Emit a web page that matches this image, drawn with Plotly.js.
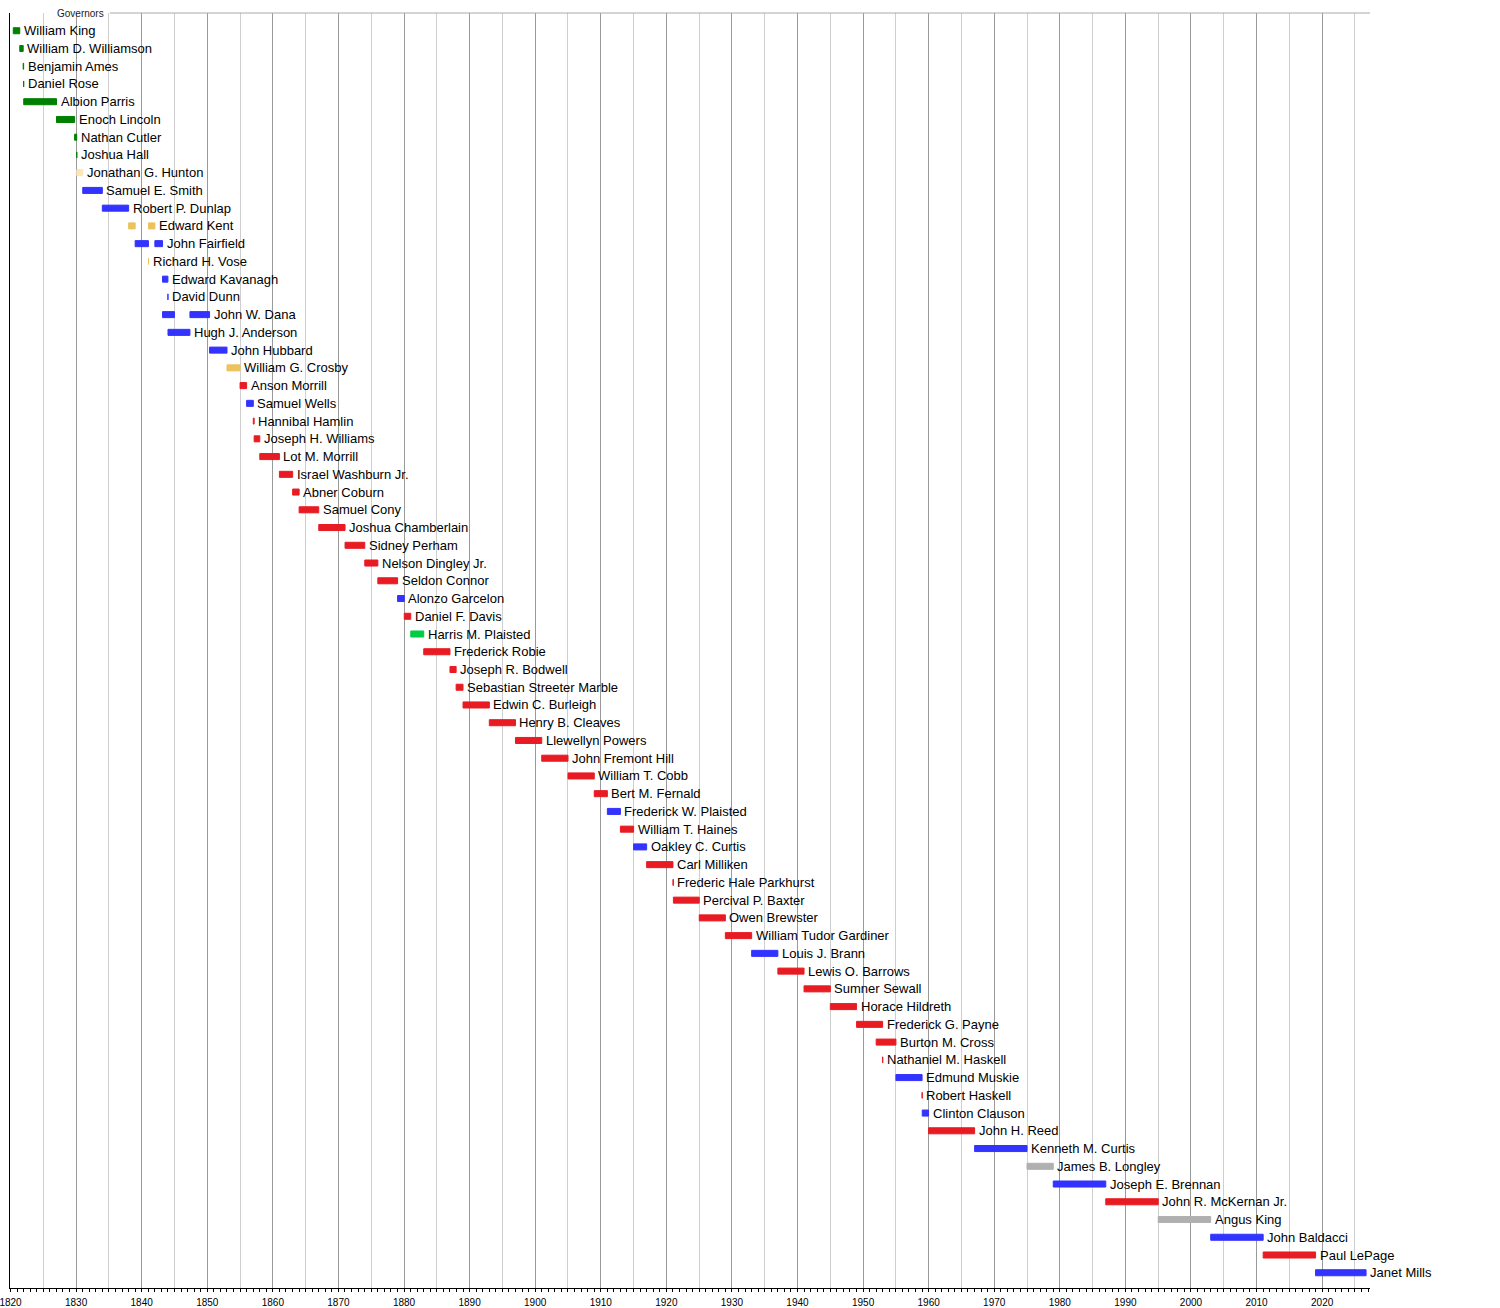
<!DOCTYPE html>
<html>
<head>
<meta charset="utf-8">
<script src="https://cdn.plot.ly/plotly-3.0.1.min.js"></script>
<style>html,body{margin:0;padding:0;background:#fff;}#chart{width:1500px;height:1308px;}</style>
</head>
<body>
<div id="chart"></div>
<script>
const groupTitle = "Governors";

const governors = [
  "William King","William D. Williamson","Benjamin Ames","Daniel Rose","Albion Parris",
  "Enoch Lincoln","Nathan Cutler","Joshua Hall","Jonathan G. Hunton","Samuel E. Smith",
  "Robert P. Dunlap","Edward Kent","John Fairfield","Richard H. Vose","Edward Kavanagh",
  "David Dunn","John W. Dana","Hugh J. Anderson","John Hubbard","William G. Crosby",
  "Anson Morrill","Samuel Wells","Hannibal Hamlin","Joseph H. Williams","Lot M. Morrill",
  "Israel Washburn Jr.","Abner Coburn","Samuel Cony","Joshua Chamberlain","Sidney Perham",
  "Nelson Dingley Jr.","Seldon Connor","Alonzo Garcelon","Daniel F. Davis","Harris M. Plaisted",
  "Frederick Robie","Joseph R. Bodwell","Sebastian Streeter Marble","Edwin C. Burleigh","Henry B. Cleaves",
  "Llewellyn Powers","John Fremont Hill","William T. Cobb","Bert M. Fernald","Frederick W. Plaisted",
  "William T. Haines","Oakley C. Curtis","Carl Milliken","Frederic Hale Parkhurst","Percival P. Baxter",
  "Owen Brewster","William Tudor Gardiner","Louis J. Brann","Lewis O. Barrows","Sumner Sewall",
  "Horace Hildreth","Frederick G. Payne","Burton M. Cross","Nathaniel M. Haskell","Edmund Muskie",
  "Robert Haskell","Clinton Clauson","John H. Reed","Kenneth M. Curtis","James B. Longley",
  "Joseph E. Brennan","John R. McKernan Jr.","Angus King","John Baldacci","Paul LePage",
  "Janet Mills"
];

const termStarts = [
  [1820.42],[1821.41],[1821.93],[1822.00],[1822.01],
  [1827.01],[1829.77],[1830.09],[1830.11],[1831.01],
  [1834.00],[1838.01,1841.04],[1839.00,1842.01],[1841.03],[1843.18],
  [1844.00],[1843.18,1847.36],[1844.01],[1850.35],[1853.01],
  [1855.00],[1856.00],[1857.02],[1857.15],[1858.01],
  [1861.00],[1863.02],[1864.01],[1867.00],[1871.01],
  [1874.02],[1876.01],[1879.02],[1880.04],[1881.03],
  [1883.01],[1887.01],[1887.95],[1889.00],[1893.01],
  [1897.00],[1901.00],[1905.01],[1909.01],[1911.01],
  [1913.00],[1915.01],[1917.00],[1921.01],[1921.08],
  [1925.02],[1929.00],[1933.01],[1937.01],[1941.00],
  [1945.01],[1949.01],[1952.00],[1952.98],[1955.01],
  [1959.00],[1959.02],[1959.99],[1967.01],[1975.00],
  [1979.00],[1987.01],[1995.01],[2003.01],[2011.01],
  [2019.00]
];

const termEnds = [
  [1821.41],[1821.93],[1822.00],[1822.01],[1827.01],
  [1829.77],[1830.09],[1830.11],[1831.01],[1834.00],
  [1838.01],[1839.00,1842.01],[1841.03,1843.18],[1841.04],[1844.00],
  [1844.01],[1845.00,1850.35],[1847.36],[1853.01],[1855.00],
  [1856.00],[1857.02],[1857.15],[1858.01],[1861.00],
  [1863.02],[1864.01],[1867.00],[1871.01],[1874.02],
  [1876.01],[1879.02],[1880.04],[1881.03],[1883.01],
  [1887.01],[1887.95],[1889.00],[1893.01],[1897.00],
  [1901.00],[1905.01],[1909.01],[1911.01],[1913.00],
  [1915.01],[1917.00],[1921.01],[1921.08],[1925.02],
  [1929.00],[1933.01],[1937.01],[1941.00],[1945.01],
  [1949.01],[1952.98],[1955.01],[1953.00],[1959.00],
  [1959.02],[1959.99],[1967.01],[1975.00],[1979.00],
  [1987.01],[1995.01],[2003.01],[2011.01],[2019.00],
  [2026.70]
];

const parties = [
  "DR","DR","DR","DR","DR",
  "DR","DR","DR","NR","D",
  "D","W","D","W","D",
  "D","D","D","D","W",
  "R","D","R","R","R",
  "R","R","R","R","R",
  "R","R","D","R","G",
  "R","R","R","R","R",
  "R","R","R","R","D",
  "R","D","R","R","R",
  "R","R","D","R","R",
  "R","R","R","R","D",
  "R","D","R","D","I",
  "D","R","I","D","R",
  "D"
];

const partyNames = ["DR","NR","D","W","R","G","I"];
const partyColors = {
  DR: "#008000",
  NR: "#FFE4B5",
  D:  "#3333FF",
  W:  "#EBC25C",
  R:  "#E81B23",
  G:  "#00CC44",
  I:  "#B0B0B0"
};

const xStart = 1819.92, xEnd = 2027.3;

const traces = [];
partyNames.forEach(function(p){
  const ys = [], bases = [], lens = [];
  governors.forEach(function(name, i){
    if (parties[i] !== p) return;
    termStarts[i].forEach(function(s, k){
      ys.push(i);
      bases.push(s);
      lens.push(termEnds[i][k] - s);
    });
  });
  traces.push({
    type: "bar",
    orientation: "h",
    y: ys,
    base: bases,
    x: lens,
    width: 0.34,
    marker: {color: partyColors[p], line: {color: partyColors[p], width: 1}},
    hoverinfo: "skip",
    showlegend: false
  });
});

// dummy trace to carry yearly tick axis
traces.push({
  type: "scatter", mode: "markers",
  x: [termStarts[0][0]], y: [0],
  xaxis: "x2", yaxis: "y",
  marker: {opacity: 0}, hoverinfo: "skip", showlegend: false
});

const annotations = governors.map(function(name, i){
  const ends = termEnds[i];
  return {
    x: ends[ends.length - 1], y: i,
    xref: "x", yref: "y",
    text: name,
    showarrow: false,
    xanchor: "left", yanchor: "middle",
    xshift: 2,
    font: {size: 13, color: "#000", family: "Liberation Sans, Arial, sans-serif"}
  };
});

annotations.push({
  x: 0.0706, y: 1, xref: "paper", yref: "paper",
  text: groupTitle, showarrow: false,
  xanchor: "right", yanchor: "middle",
  font: {size: 10, color: "#222", family: "Liberation Sans, Arial, sans-serif"}
});

const layout = {
  width: 1500, height: 1308,
  margin: {l: 10, r: 130, t: 13, b: 20, pad: 0},
  paper_bgcolor: "#fff", plot_bgcolor: "#fff",
  font: {family: "Liberation Sans, Arial, sans-serif", color: "#000"},
  hovermode: false,
  showlegend: false,
  barmode: "overlay",
  xaxis: {
    range: [xStart, xEnd],
    tick0: 1820, dtick: 10,
    ticks: "outside", ticklen: 3, tickcolor: "#000", tickwidth: 1,
    tickfont: {size: 10, color: "#000"},
    ticklabeloverflow: "allow",
    ticklabelstandoff: 2,
    showline: true, linecolor: "#000", linewidth: 1,
    showgrid: true, gridcolor: "#9a9a9a", gridwidth: 1,
    zeroline: false,
    minor: {tick0: 1820, dtick: 5, showgrid: true, gridcolor: "#cfcfcf", gridwidth: 1, ticks: ""},
    fixedrange: true
  },
  xaxis2: {
    overlaying: "x", anchor: "y", side: "bottom",
    range: [xStart, xEnd],
    tick0: 1820, dtick: 1,
    ticks: "outside", ticklen: 3, tickcolor: "#000", tickwidth: 1,
    showticklabels: false, showgrid: false, showline: false, zeroline: false,
    fixedrange: true
  },
  yaxis: {
    range: [70.86, -1],
    showline: true, linecolor: "#000", linewidth: 1,
    showgrid: false, zeroline: false, showticklabels: false, ticks: "",
    fixedrange: true
  },
  shapes: [{
    type: "line", xref: "paper", yref: "paper",
    x0: 0.0735, x1: 1, y0: 1, y1: 1,
    line: {color: "#aaaaaa", width: 1}
  }],
  annotations: annotations
};

Plotly.newPlot("chart", traces, layout, {staticPlot: true, displayModeBar: false});
</script>
</body>
</html>
